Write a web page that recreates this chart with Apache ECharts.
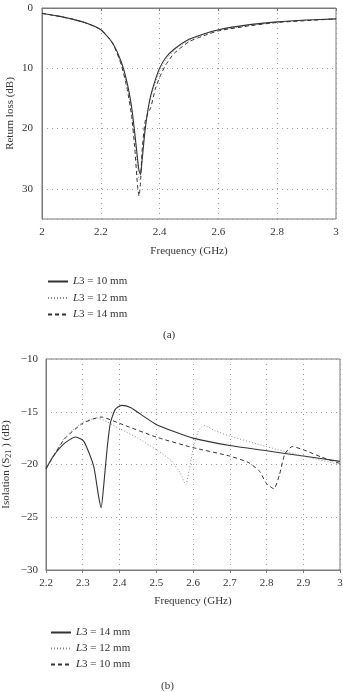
<!DOCTYPE html>
<html>
<head>
<meta charset="utf-8">
<script src="https://cdn.jsdelivr.net/npm/echarts/dist/echarts.min.js"></script>
<style>
  html, body { margin: 0; padding: 0; background: #fff; }
  #chart { width: 343px; height: 692px; }
</style>
</head>
<body>
<div id="chart"></div>
<script>
// (a) return loss vs frequency
var freqA = [2.0, 2.05, 2.1, 2.15, 2.2, 2.24, 2.27, 2.29, 2.305, 2.315, 2.325, 2.33, 2.335, 2.34, 2.35, 2.36, 2.37, 2.385, 2.4, 2.42, 2.45, 2.5, 2.55, 2.6, 2.7, 2.8, 2.9, 3.0];
var rl10 = [0.9, 1.3, 1.8, 2.5, 3.6, 5.8, 9.0, 12.5, 16.5, 20.5, 25.0, 27.0, 27.6, 25.5, 20.5, 17.0, 14.5, 12.0, 10.0, 8.3, 6.8, 5.2, 4.3, 3.6, 2.8, 2.3, 2.0, 1.8];
var rl12 = [0.9, 1.3, 1.8, 2.5, 3.6, 5.9, 9.3, 13.0, 17.0, 21.5, 26.5, 28.5, 28.0, 25.0, 20.0, 16.8, 14.8, 12.5, 10.5, 8.7, 7.0, 5.4, 4.4, 3.7, 2.9, 2.4, 2.0, 1.8];
var rl14 = [0.9, 1.3, 1.8, 2.5, 3.6, 5.8, 9.5, 13.5, 18.0, 23.0, 29.5, 31.2, 29.0, 24.0, 19.0, 17.5, 16.5, 13.5, 11.5, 9.5, 7.5, 5.6, 4.6, 3.8, 3.0, 2.4, 2.1, 1.8];

// (b) isolation S21 vs frequency
var freqB14 = [2.2, 2.22, 2.25, 2.28, 2.3, 2.31, 2.33, 2.343, 2.35, 2.357, 2.366, 2.375, 2.388, 2.405, 2.43, 2.46, 2.5, 2.55, 2.6, 2.7, 2.8, 2.9, 3.0];
var iso14 = [-20.4, -19.2, -18.0, -17.4, -17.7, -18.3, -20.2, -23.0, -24.1, -22.0, -18.6, -16.1, -14.8, -14.4, -14.6, -15.3, -16.2, -16.9, -17.5, -18.2, -18.7, -19.2, -19.7];
var freqB12 = [2.2, 2.25, 2.3, 2.34, 2.4, 2.45, 2.5, 2.54, 2.565, 2.58, 2.59, 2.6, 2.615, 2.63, 2.66, 2.7, 2.8, 2.9, 3.0];
var iso12 = [-20.4, -17.5, -16.0, -15.6, -16.6, -17.5, -18.6, -19.6, -20.8, -21.9, -20.5, -18.6, -16.8, -16.3, -16.8, -17.3, -18.3, -19.2, -20.0];
var freqB10 = [2.2, 2.25, 2.3, 2.35, 2.4, 2.5, 2.6, 2.7, 2.75, 2.78, 2.8, 2.82, 2.835, 2.85, 2.87, 2.9, 2.95, 3.0];
var iso10 = [-20.4, -17.6, -16.1, -15.5, -16.1, -17.4, -18.4, -19.2, -19.8, -20.6, -21.8, -22.3, -21.0, -19.0, -18.3, -18.6, -19.3, -19.9];

var namesA = ['L3 = 10 mm', 'L3 = 12 mm', 'L3 = 14 mm'];
var namesB = ['L3 = 14 mm', 'L3 = 12 mm', 'L3 = 10 mm'];

function pairs(xs, ys) {
    return xs.map(function (x, i) { return [x, ys[i]]; });
}

var font = '"Liberation Serif", "DejaVu Serif", serif';
var txt = '#333';
var axisCol = '#7a7a7a';
var gridLine = { show: true, lineStyle: { color: '#9a9a9a', type: [1, 4], width: 1 } };

var solid = { color: '#333', width: 1.1, type: 'solid' };
var dotted = { color: '#8a8a8a', width: 1, type: [1, 2] };
var dashed = { color: '#333', width: 1, type: [4, 3] };

function legendText(name) {
    // name like "a|L3 = 10 mm"
    var s = name.split('|')[1];
    return '{it|L}' + s.slice(1);
}

var legendRich = { it: { fontFamily: font, fontSize: 11, fontStyle: 'italic', color: txt } };

var chart = echarts.init(document.getElementById('chart'));
var option = {
    animation: false,
    textStyle: { fontFamily: font, color: txt },
    grid: [
        { left: 42, top: 8, width: 294, height: 211, outerBoundsMode: 'none', containLabel: false, show: true, borderColor: axisCol, borderWidth: 1, backgroundColor: 'transparent' },
        { left: 46, top: 359, width: 294, height: 211, outerBoundsMode: 'none', containLabel: false, show: true, borderColor: axisCol, borderWidth: 1, backgroundColor: 'transparent' }
    ],
    xAxis: [
        {
            gridIndex: 0, type: 'value', min: 2, max: 3, interval: 0.2,
            name: 'Frequency (GHz)', nameLocation: 'middle', nameGap: 27,
            nameTextStyle: { fontFamily: font, fontSize: 11, color: txt },
            axisLine: { lineStyle: { color: axisCol } },
            axisTick: { length: 3, lineStyle: { color: axisCol } },
            axisLabel: { fontFamily: font, fontSize: 11, color: txt, margin: 8 },
            splitLine: gridLine
        },
        {
            gridIndex: 1, type: 'value', min: 2.2, max: 3, interval: 0.1,
            name: 'Frequency (GHz)', nameLocation: 'middle', nameGap: 26,
            nameTextStyle: { fontFamily: font, fontSize: 11, color: txt },
            axisLine: { lineStyle: { color: axisCol } },
            axisTick: { length: 3, lineStyle: { color: axisCol } },
            axisLabel: { fontFamily: font, fontSize: 11, color: txt, margin: 8 },
            splitLine: gridLine
        }
    ],
    yAxis: [
        {
            gridIndex: 0, type: 'value', min: 0, max: 35, interval: 10, inverse: true,
            name: 'Return loss (dB)', nameLocation: 'middle', nameGap: 26, nameMoveOverlap: false,
            nameTextStyle: { fontFamily: font, fontSize: 11, color: txt },
            axisLine: { lineStyle: { color: axisCol } },
            axisTick: { show: false },
            axisLabel: { fontFamily: font, fontSize: 11, color: txt, margin: 9, showMaxLabel: false },
            splitLine: gridLine
        },
        {
            gridIndex: 1, type: 'value', min: -30, max: -10, interval: 5,
            name: 'Isolation (S{sub|21} ) (dB)', nameLocation: 'middle', nameGap: 33, nameMoveOverlap: false,
            nameTextStyle: {
                fontFamily: font, fontSize: 11, color: txt,
                rich: { sub: { fontFamily: font, fontSize: 8, color: txt, verticalAlign: 'bottom', padding: [6, 0, 0, 0] } }
            },
            axisLine: { lineStyle: { color: axisCol } },
            axisTick: { show: false },
            axisLabel: {
                fontFamily: font, fontSize: 11, color: txt, margin: 8,
                formatter: function (v) { return String(v).replace('-', '\u2212'); }
            },
            splitLine: gridLine
        }
    ],
    legend: [
        {
            orient: 'vertical', left: 42, top: 271, itemWidth: 20, itemHeight: 10, itemGap: 5.5,
            itemStyle: { opacity: 0 },
            data: ['a|' + namesA[0], 'a|' + namesA[1], 'a|' + namesA[2]],
            formatter: legendText,
            textStyle: { fontFamily: font, fontSize: 11, color: txt, rich: legendRich }
        },
        {
            orient: 'vertical', left: 45, top: 622, itemWidth: 20, itemHeight: 10, itemGap: 5,
            itemStyle: { opacity: 0 },
            data: ['b|' + namesB[0], 'b|' + namesB[1], 'b|' + namesB[2]],
            formatter: legendText,
            textStyle: { fontFamily: font, fontSize: 11, color: txt, rich: legendRich }
        }
    ],
    graphic: [
        { type: 'text', left: 163, top: 330, style: { text: '(a)', font: '11px ' + font, fill: txt } },
        { type: 'text', left: 161, top: 681, style: { text: '(b)', font: '11px ' + font, fill: txt } }
    ],
    series: [
        { name: 'a|' + namesA[0], type: 'line', xAxisIndex: 0, yAxisIndex: 0, symbol: 'none', smooth: 0.2, lineStyle: solid, itemStyle: { color: solid.color }, data: pairs(freqA, rl10), z: 4 },
        { name: 'a|' + namesA[1], type: 'line', xAxisIndex: 0, yAxisIndex: 0, symbol: 'none', smooth: 0.2, lineStyle: dotted, itemStyle: { color: dotted.color }, data: pairs(freqA, rl12), z: 2 },
        { name: 'a|' + namesA[2], type: 'line', xAxisIndex: 0, yAxisIndex: 0, symbol: 'none', smooth: 0.2, lineStyle: dashed, itemStyle: { color: dashed.color }, data: pairs(freqA, rl14), z: 3 },
        { name: 'b|' + namesB[0], type: 'line', xAxisIndex: 1, yAxisIndex: 1, symbol: 'none', smooth: 0.2, lineStyle: solid, itemStyle: { color: solid.color }, data: pairs(freqB14, iso14) },
        { name: 'b|' + namesB[1], type: 'line', xAxisIndex: 1, yAxisIndex: 1, symbol: 'none', smooth: 0.2, lineStyle: dotted, itemStyle: { color: dotted.color }, data: pairs(freqB12, iso12) },
        { name: 'b|' + namesB[2], type: 'line', xAxisIndex: 1, yAxisIndex: 1, symbol: 'none', smooth: 0.2, lineStyle: dashed, itemStyle: { color: dashed.color }, data: pairs(freqB10, iso10) }
    ]
};
chart.setOption(option);
window.addEventListener('resize', function () {
    chart.resize();
});
</script>
</body>
</html>
